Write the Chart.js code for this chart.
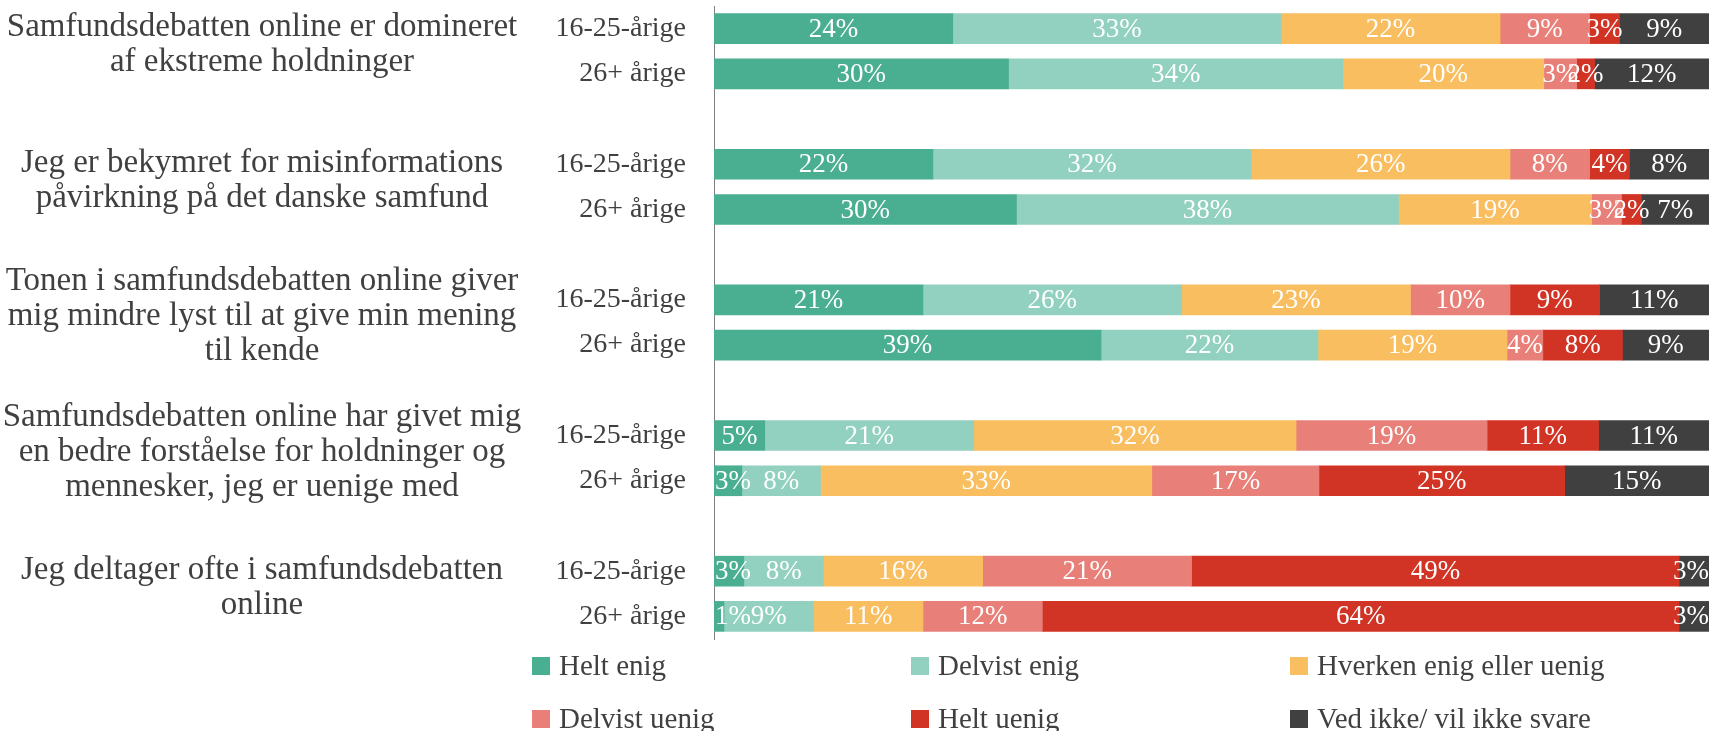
<!DOCTYPE html>
<html>
<head>
<meta charset="utf-8">
<script src="https://cdn.jsdelivr.net/npm/chart.js@4/dist/chart.umd.min.js"></script>
<style>
  html, body { margin: 0; padding: 0; background: #fff; }
  #wrap { position: relative; width: 1709px; height: 731px; }
  #legend {
    position: absolute; left: 532px; top: 647px;
    display: grid; grid-template-columns: 379px 379px 379px; row-gap: 16px;
    font-family: "Liberation Serif", serif; font-size: 29px; color: #404040;
  }
  .item { display: flex; align-items: center; height: 37px; }
  .box { width: 18px; height: 18px; margin-right: 9px; }
</style>
</head>
<body>
<div id="wrap">
  <canvas id="chart" width="1709" height="731"></canvas>
  <div id="legend"></div>
</div>
<script>
document.addEventListener('DOMContentLoaded', () => {
    // spørgsmål (tekst til venstre), hver med to aldersgrupper
    const questions = [
        ['Samfundsdebatten online er domineret', 'af ekstreme holdninger'],
        ['Jeg er bekymret for misinformations', 'påvirkning på det danske samfund'],
        ['Tonen i samfundsdebatten online giver', 'mig mindre lyst til at give min mening', 'til kende'],
        ['Samfundsdebatten online har givet mig', 'en bedre forståelse for holdninger og', 'mennesker, jeg er uenige med'],
        ['Jeg deltager ofte i samfundsdebatten', 'online']
    ];
    const ageGroups = ['16-25-årige', '26+ årige'];

    // værdier i %, rækkefølge: Q1 16-25, Q1 26+, Q2 16-25, ...
    const heltEnig     = [24, 29.6, 22, 30.4, 21, 38.9, 5.1, 2.8, 3, 1];
    const delvistEnig  = [33, 33.6, 32, 38.4, 26, 21.8, 21.0, 7.9, 8, 9];
    const hverken      = [22, 20.2, 26, 19.4, 23, 19.0, 32.4, 33.3, 16, 11];
    const delvistUenig = [9, 3.3, 8, 3.0, 10, 3.6, 19.2, 16.8, 21, 12];
    const heltUenig    = [3, 1.8, 4, 2.0, 9, 8.0, 11.2, 24.7, 49, 64];
    const vedIkke      = [9, 11.5, 8, 6.8, 11, 8.7, 11.1, 14.5, 3, 3];

    const seriesNames = ['Helt enig', 'Delvist enig', 'Hverken enig eller uenig', 'Delvist uenig', 'Helt uenig', 'Ved ikke/ vil ikke svare'];
    const seriesValues = [heltEnig, delvistEnig, hverken, delvistUenig, heltUenig, vedIkke];
    const colors = ['#4aae91', '#92d1bf', '#f9be60', '#e88079', '#d13324', '#404040'];

    // byg kategorier med en tom plads mellem hver gruppe
    const labels = [];
    const slotIndex = [];
    questions.forEach((q, qi) => {
        ageGroups.forEach(a => { slotIndex.push(labels.length); labels.push(a); });
        if (qi < questions.length - 1) labels.push('');
    });
    function spread(values) {
        const out = labels.map(() => null);
        values.forEach((v, i) => { out[slotIndex[i]] = v; });
        return out;
    }

    const textColor = '#404040';
    const fontFamily = '"Liberation Serif", serif';

    // procenttal midt i hvert segment, holdt inden for plotområdet
    const barLabels = {
        id: 'barLabels',
        afterDatasetsDraw(chart) {
            const ctx = chart.ctx;
            const area = chart.chartArea;
            ctx.save();
            ctx.font = '27px ' + fontFamily;
            ctx.fillStyle = '#ffffff';
            ctx.textAlign = 'center';
            ctx.textBaseline = 'middle';
            chart.data.datasets.forEach((ds, di) => {
                chart.getDatasetMeta(di).data.forEach((el, i) => {
                    const v = ds.data[i];
                    if (v === null) return;
                    const p = el.getProps(['x', 'y', 'base'], true);
                    const txt = Math.round(v) + '%';
                    const half = ctx.measureText(txt).width / 2;
                    let cx = (p.x + p.base) / 2;
                    cx = Math.max(area.left + half + 1, Math.min(area.right - half, cx));
                    ctx.fillText(txt, cx, p.y + 1);
                });
            });
            ctx.restore();
        }
    };

    const questionText = {
        id: 'questionText',
        afterDraw(chart) {
            const ctx = chart.ctx;
            const y = chart.scales.y;
            ctx.save();
            ctx.font = '33px ' + fontFamily;
            ctx.fillStyle = textColor;
            ctx.textAlign = 'center';
            ctx.textBaseline = 'middle';
            const lh = 35;
            questions.forEach((lines, qi) => {
                const a = y.getPixelForValue(slotIndex[qi * 2]);
                const b = y.getPixelForValue(slotIndex[qi * 2 + 1]);
                const mid = (a + b) / 2 - 6;
                const top = mid - (lines.length - 1) * lh / 2;
                lines.forEach((t, li) => ctx.fillText(t, 262, top + li * lh));
            });
            ctx.restore();
        }
    };

    new Chart(document.getElementById('chart').getContext('2d'), {
        type: 'bar',
        data: {
            labels: labels,
            datasets: seriesNames.map((name, i) => ({
                label: name,
                data: spread(seriesValues[i]),
                backgroundColor: colors[i],
                borderWidth: 0,
                barThickness: 30
            }))
        },
        options: {
            indexAxis: 'y',
            responsive: false,
            animation: false,
            layout: { padding: { top: 6, bottom: 92, left: 0, right: 0 } },
            plugins: {
                legend: { display: false },
                tooltip: { enabled: false }
            },
            scales: {
                x: { stacked: true, min: 0, max: 100, display: false },
                y: {
                    stacked: true,
                    afterFit: scale => {
                        scale.width = 714;
                        scale.paddingTop = 0;
                        scale.paddingBottom = 0;
                    },
                    grid: { display: false, drawTicks: false },
                    border: { display: true, color: '#7f7f7f', width: 1 },
                    ticks: {
                        autoSkip: false,
                        padding: 28,
                        color: textColor,
                        font: { family: fontFamily, size: 28 }
                    }
                }
            }
        },
        plugins: [barLabels, questionText]
    });

    // legende i tre kolonner
    const legend = document.getElementById('legend');
    seriesNames.forEach((name, i) => {
        const item = document.createElement('div');
        item.className = 'item';
        const box = document.createElement('span');
        box.className = 'box';
        box.style.background = colors[i];
        const txt = document.createElement('span');
        txt.textContent = name;
        item.appendChild(box);
        item.appendChild(txt);
        legend.appendChild(item);
    });
});
</script>
</body>
</html>
